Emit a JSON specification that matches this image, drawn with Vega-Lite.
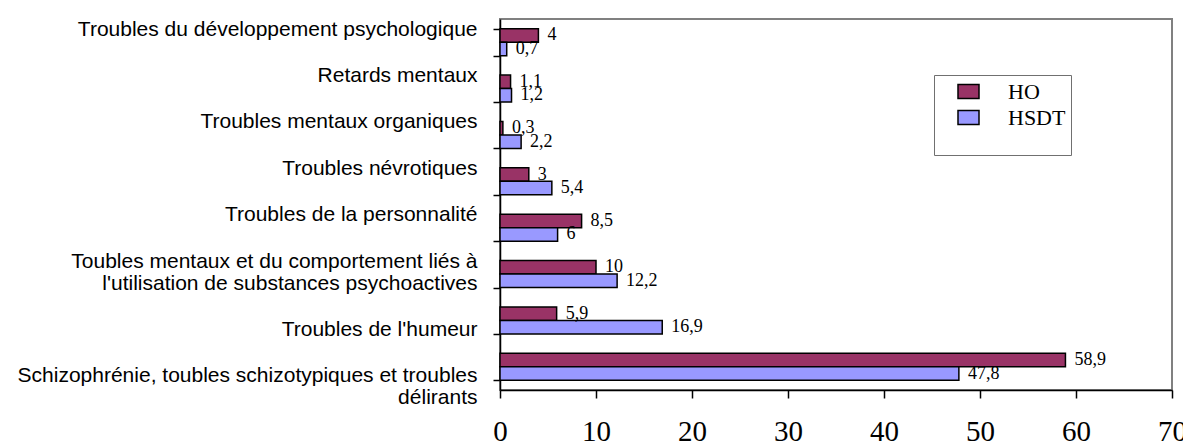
{
  "$schema": "https://vega.github.io/schema/vega-lite/v6.json",
  "autosize": "none",
  "width": 672,
  "height": 371,
  "padding": {"left": 500, "top": 19, "right": 11, "bottom": 58},
  "background": "white",
  "data": {
    "values": [
      {"cat": "Troubles du développement psychologique", "group": "HO", "value": 4},
      {"cat": "Troubles du développement psychologique", "group": "HSDT", "value": 0.7},
      {"cat": "Retards mentaux", "group": "HO", "value": 1.1},
      {"cat": "Retards mentaux", "group": "HSDT", "value": 1.2},
      {"cat": "Troubles mentaux organiques", "group": "HO", "value": 0.3},
      {"cat": "Troubles mentaux organiques", "group": "HSDT", "value": 2.2},
      {"cat": "Troubles névrotiques", "group": "HO", "value": 3},
      {"cat": "Troubles névrotiques", "group": "HSDT", "value": 5.4},
      {"cat": "Troubles de la personnalité", "group": "HO", "value": 8.5},
      {"cat": "Troubles de la personnalité", "group": "HSDT", "value": 6},
      {"cat": "Toubles mentaux et du comportement liés à|l'utilisation de substances psychoactives", "group": "HO", "value": 10},
      {"cat": "Toubles mentaux et du comportement liés à|l'utilisation de substances psychoactives", "group": "HSDT", "value": 12.2},
      {"cat": "Troubles de l'humeur", "group": "HO", "value": 5.9},
      {"cat": "Troubles de l'humeur", "group": "HSDT", "value": 16.9},
      {"cat": "Schizophrénie, toubles schizotypiques et troubles|délirants", "group": "HO", "value": 58.9},
      {"cat": "Schizophrénie, toubles schizotypiques et troubles|délirants", "group": "HSDT", "value": 47.8}
    ]
  },
  "encoding": {
    "y": {
      "field": "cat",
      "type": "nominal",
      "sort": null,
      "title": null,
      "scale": {"paddingInner": 0.42, "paddingOuter": 0.21},
      "axis": {
        "labelExpr": "indexof(datum.label, 'Schizo') == 0 || indexof(datum.label, 'humeur') >= 0 ? split('|' + datum.label, '|') : split(datum.label, '|')",
        "labelFont": "Liberation Sans",
        "labelFontSize": 21,
        "labelLineHeight": 22,
        "labelColor": "black",
        "labelPadding": 16,
        "labelLimit": 600,
        "labelOffset": -13,
        "tickBand": "extent",
        "tickSize": 7,
        "tickColor": "black",
        "tickWidth": 1.5,
        "domainColor": "black",
        "domainWidth": 1.5,
        "grid": false
      }
    },
    "yOffset": {"field": "group", "type": "nominal", "sort": ["HO", "HSDT"]},
    "x": {
      "field": "value",
      "type": "quantitative",
      "title": null,
      "scale": {"domain": [0, 70], "nice": false},
      "axis": {
        "values": [0, 10, 20, 30, 40, 50, 60, 70],
        "format": "d",
        "labelFont": "Liberation Serif",
        "labelFontSize": 29,
        "labelColor": "black",
        "labelPadding": 19,
        "tickSize": 8,
        "tickColor": "black",
        "tickWidth": 1.5,
        "domainColor": "black",
        "domainWidth": 1.5,
        "grid": false,
        "labelFlush": false
      }
    }
  },
  "layer": [
    {
      "mark": {"type": "bar", "stroke": "black", "strokeWidth": 1.5},
      "encoding": {
        "fill": {
          "field": "group",
          "type": "nominal",
          "sort": ["HO", "HSDT"],
          "scale": {"domain": ["HO", "HSDT"], "range": ["#993366", "#9999FF"]},
          "legend": {
            "orient": "none",
            "legendX": 434,
            "legendY": 56,
            "title": "                                 ",
            "titleOrient": "bottom",
            "titleFontSize": 18,
            "titleFont": "Liberation Serif",
            "titlePadding": 3,
            "titleAnchor": "start",
            "padding": 5,
            "strokeColor": "#707070",
            "fillColor": "white",
            "symbolType": "M-1,-0.67H1V0.67H-1Z",
            "symbolSize": 441,
            "symbolStrokeColor": "black",
            "symbolStrokeWidth": 1.5,
            "symbolOpacity": 1,
            "symbolOffset": 18,
            "labelFont": "Liberation Serif",
            "labelFontSize": 22,
            "labelColor": "black",
            "labelOffset": 28,
            "labelBaseline": "middle",
            "rowPadding": 3
          }
        }
      }
    },
    {
      "mark": {"type": "text", "align": "left", "baseline": "middle", "dx": 9, "font": "Liberation Serif", "fontSize": 18, "color": "black", "text": {"expr": "replace(format(datum.value, '~g'), '.', ',')"}},
      "encoding": {}
    }
  ],
  "config": {
    "view": {"stroke": "#808080", "strokeWidth": 2}
  }
}
